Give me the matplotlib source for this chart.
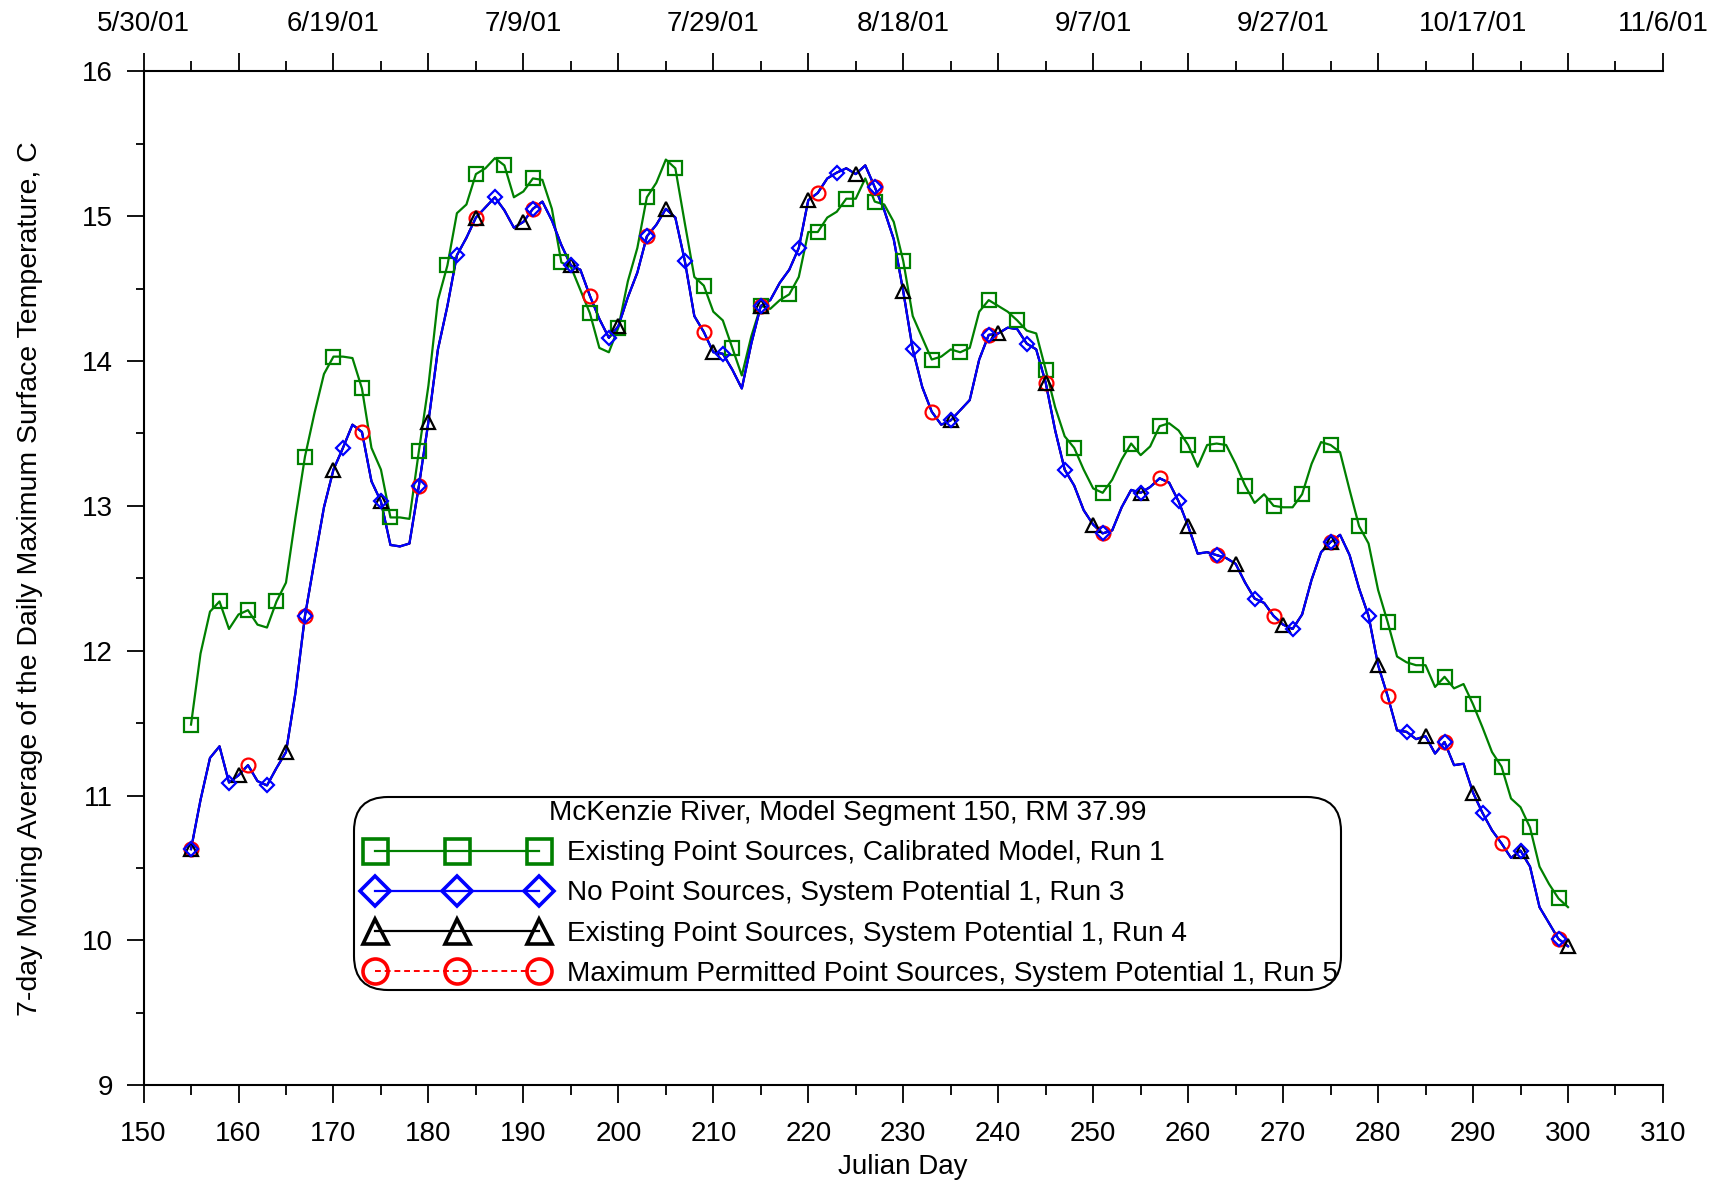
import matplotlib
matplotlib.use("Agg")
import matplotlib.pyplot as plt
from matplotlib.lines import Line2D
from matplotlib.legend_handler import HandlerLine2D
from matplotlib.ticker import MultipleLocator

plt.rcParams['font.family'] = ['Liberation Sans', 'DejaVu Sans']

# Julian days 155..300
days = list(range(155, 301))

# Run 1: Existing Point Sources, Calibrated Model
run1 = [11.49, 11.98, 12.27, 12.34, 12.15, 12.25, 12.28, 12.18, 12.16, 12.34,
        12.47, 12.92, 13.34, 13.64, 13.91, 14.03, 14.03, 14.02, 13.81, 13.40,
        13.25, 12.92, 12.92, 12.91, 13.38, 13.83, 14.42, 14.66, 15.02, 15.08,
        15.29, 15.33, 15.40, 15.35, 15.13, 15.17, 15.26, 15.25, 15.05, 14.68,
        14.65, 14.49, 14.33, 14.09, 14.06, 14.23, 14.55, 14.78, 15.13, 15.23,
        15.39, 15.33, 14.95, 14.58, 14.52, 14.34, 14.28, 14.09, 13.90, 14.17,
        14.38, 14.36, 14.42, 14.46, 14.58, 14.89, 14.89, 14.99, 15.03, 15.12,
        15.12, 15.26, 15.10, 15.08, 14.96, 14.69, 14.31, 14.16, 14.01, 14.03,
        14.08, 14.06, 14.09, 14.34, 14.42, 14.38, 14.34, 14.28, 14.21, 14.19,
        13.94, 13.68, 13.48, 13.40, 13.25, 13.12, 13.09, 13.18, 13.32, 13.43,
        13.35, 13.41, 13.55, 13.57, 13.52, 13.42, 13.27, 13.42, 13.43, 13.42,
        13.29, 13.14, 13.02, 13.08, 13.00, 12.99, 12.99, 13.08, 13.29, 13.44,
        13.42, 13.37, 13.11, 12.86, 12.74, 12.42, 12.20, 11.96, 11.92, 11.90,
        11.90, 11.75, 11.82, 11.74, 11.77, 11.63, 11.47, 11.30, 11.20, 10.98,
        10.92, 10.78, 10.51, 10.39, 10.29, 10.23]

# Run 3: No Point Sources, System Potential 1
run3 = [10.63, 10.97, 11.26, 11.34, 11.09, 11.14, 11.21, 11.10, 11.07, 11.19,
        11.30, 11.71, 12.24, 12.62, 12.99, 13.25, 13.40, 13.56, 13.51, 13.17,
        13.03, 12.73, 12.72, 12.74, 13.14, 13.58, 14.08, 14.38, 14.73, 14.85,
        14.99, 15.06, 15.13, 15.04, 14.92, 14.96, 15.05, 15.10, 14.97, 14.80,
        14.66, 14.63, 14.45, 14.29, 14.16, 14.24, 14.44, 14.61, 14.86, 14.94,
        15.05, 14.99, 14.69, 14.31, 14.20, 14.06, 14.05, 13.94, 13.81, 14.12,
        14.38, 14.42, 14.54, 14.63, 14.78, 15.11, 15.16, 15.26, 15.30, 15.33,
        15.29, 15.35, 15.20, 15.04, 14.84, 14.48, 14.08, 13.82, 13.65, 13.56,
        13.59, 13.66, 13.73, 14.01, 14.18, 14.19, 14.23, 14.22, 14.12, 14.08,
        13.85, 13.52, 13.25, 13.14, 12.97, 12.87, 12.81, 12.83, 12.99, 13.11,
        13.09, 13.13, 13.19, 13.16, 13.03, 12.86, 12.67, 12.68, 12.66, 12.64,
        12.60, 12.47, 12.36, 12.33, 12.24, 12.18, 12.15, 12.25, 12.49, 12.68,
        12.75, 12.80, 12.66, 12.43, 12.24, 11.90, 11.69, 11.45, 11.44, 11.39,
        11.41, 11.29, 11.37, 11.21, 11.22, 11.02, 10.88, 10.76, 10.67, 10.57,
        10.62, 10.51, 10.23, 10.12, 10.01, 9.96]

# Runs 4 and 5 lie on top of run 3 at the resolution of the picture
run4 = list(run3)
run5 = list(run3)

date_ticks = list(range(150, 311, 10))
date_labels = ["5/30/01", "", "6/19/01", "", "7/9/01", "", "7/29/01", "",
               "8/18/01", "", "9/7/01", "", "9/27/01", "", "10/17/01", "",
               "11/6/01"]

legend_title = "McKenzie River, Model Segment 150, RM 37.99"
labels = ["Existing Point Sources, Calibrated Model, Run 1",
          "No Point Sources, System Potential 1, Run 3",
          "Existing Point Sources, System Potential 1, Run 4",
          "Maximum Permitted Point Sources, System Potential 1, Run 5"]

fig = plt.figure(figsize=(17.19, 11.81), dpi=100)
ax = fig.add_axes([0.0835, 0.081, 0.8839, 0.8587])

green = '#008000'
# lines
ax.plot(days, run1, color=green, lw=1.6, zorder=2)
ax.plot(days, run5, color='red', lw=1.4, ls=(0, (3, 2)), zorder=3)
ax.plot(days, run4, color='black', lw=1.6, zorder=4)
ax.plot(days, run3, color='blue', lw=1.6, zorder=5)
# markers
ax.plot(days, run1, ls='none', marker='s', ms=10, mfc='none', mec=green, mew=1.6,
        markevery=3, zorder=6)
ax.plot(days, run5, ls='none', marker='o', ms=10, mfc='none', mec='red', mew=1.6,
        markevery=6, zorder=6)
ax.plot(days, run4, ls='none', marker='^', ms=10, mfc='none', mec='black', mew=1.6,
        markevery=5, zorder=7)
ax.plot(days, run3, ls='none', marker='D', ms=7.5, mfc='none', mec='blue', mew=1.6,
        markevery=4, zorder=8)

ax.set_xlim(150, 310)
ax.set_ylim(9, 16)
ax.xaxis.set_major_locator(MultipleLocator(10))
ax.xaxis.set_minor_locator(MultipleLocator(5))
ax.yaxis.set_major_locator(MultipleLocator(1))
ax.yaxis.set_minor_locator(MultipleLocator(0.5))

for s in ['top', 'right']:
    ax.spines[s].set_visible(False)
for s in ['left', 'bottom']:
    ax.spines[s].set_linewidth(1.5)

ax.tick_params(axis='x', which='major', direction='out', length=13, width=1.3,
               labelsize=20, pad=13)
ax.tick_params(axis='x', which='minor', direction='out', length=7, width=1.3)
ax.tick_params(axis='y', which='major', direction='out', length=12, width=1.3,
               labelsize=20, pad=10)
ax.tick_params(axis='y', which='minor', direction='out', length=6, width=1.3)

top = ax.secondary_xaxis('top')
top.set_xticks(date_ticks, labels=date_labels)
top.xaxis.set_minor_locator(MultipleLocator(5))
top.spines['top'].set_linewidth(1.5)
top.tick_params(axis='x', which='major', direction='out', length=13, width=1.3,
                labelsize=20, pad=11.5)
top.tick_params(axis='x', which='minor', direction='out', length=7, width=1.3)

ax.set_xlabel("Julian Day", fontsize=20, labelpad=5)
ax.set_ylabel("7-day Moving Average of the Daily Maximum Surface Temperature, C",
              fontsize=20.5, labelpad=28)

handles = [
    Line2D([], [], color=green, lw=1.6, marker='s', ms=18, mfc='none', mew=2.6),
    Line2D([], [], color='blue', lw=1.6, marker='D', ms=15, mfc='none', mew=2.6),
    Line2D([], [], color='black', lw=1.6, marker='^', ms=18, mfc='none', mew=2.6),
    Line2D([], [], color='red', lw=1.4, ls=(0, (3, 2)), marker='o', ms=18,
           mfc='none', mew=2.6),
]
leg = ax.legend(handles, labels, title=legend_title, loc='lower left',
                bbox_to_anchor=(0.1385, 0.0941), borderaxespad=0,
                handler_map={Line2D: HandlerLine2D(numpoints=3, marker_pad=0.62)},
                handlelength=7.1, handletextpad=0.36, fontsize=20.2,
                title_fontsize=20.2, frameon=True, fancybox=True, framealpha=1,
                edgecolor='black', labelspacing=0.5, borderpad=0.12)
leg.get_frame().set_linewidth(1.5)
leg.get_frame().set_boxstyle('round', pad=0, rounding_size=1.2)

fig.savefig("out.png", dpi=100)
